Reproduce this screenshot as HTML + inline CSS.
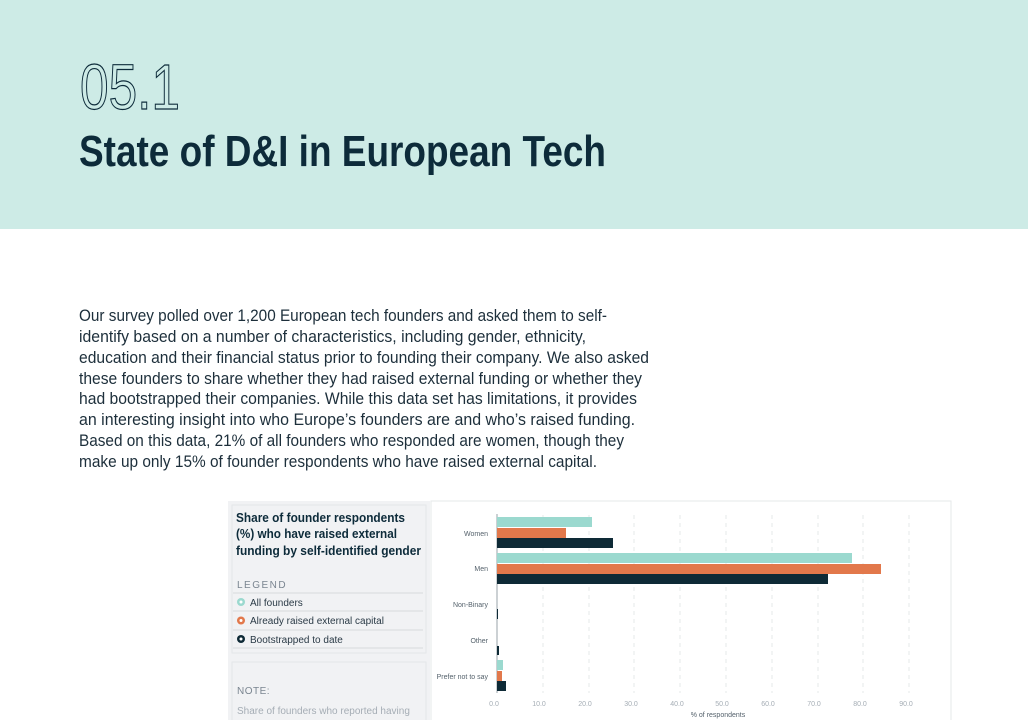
<!DOCTYPE html>
<html><head><meta charset="utf-8"><style>
html,body{margin:0;padding:0;background:#fff;}
svg{display:block;font-family:"Liberation Sans",sans-serif;}
</style></head><body>
<svg width="1028" height="720" viewBox="0 0 1028 720" xmlns="http://www.w3.org/2000/svg">
<rect x="0" y="0" width="1028" height="229" fill="#cdebe6"/>
<text x="80" y="109" font-size="64" fill="none" stroke="#0d2b3a" stroke-width="1.2" textLength="100" lengthAdjust="spacingAndGlyphs">05.1</text>
<text x="79" y="166" font-size="44" font-weight="bold" fill="#0d2b3a" textLength="527" lengthAdjust="spacingAndGlyphs">State of D&amp;I in European Tech</text>
<g font-size="17" fill="#1d2f3b">
<text x="79" y="321" textLength="528" lengthAdjust="spacingAndGlyphs">Our survey polled over 1,200 European tech founders and asked them to self-</text>
<text x="79" y="342" textLength="507" lengthAdjust="spacingAndGlyphs">identify based on a number of characteristics, including gender, ethnicity,</text>
<text x="79" y="363" textLength="570" lengthAdjust="spacingAndGlyphs">education and their financial status prior to founding their company. We also asked</text>
<text x="79" y="384" textLength="563" lengthAdjust="spacingAndGlyphs">these founders to share whether they had raised external funding or whether they</text>
<text x="79" y="404" textLength="558" lengthAdjust="spacingAndGlyphs">had bootstrapped their companies. While this data set has limitations, it provides</text>
<text x="79" y="425" textLength="556" lengthAdjust="spacingAndGlyphs">an interesting insight into who Europe’s founders are and who’s raised funding.</text>
<text x="79" y="446" textLength="545" lengthAdjust="spacingAndGlyphs">Based on this data, 21% of all founders who responded are women, though they</text>
<text x="79" y="467" textLength="518" lengthAdjust="spacingAndGlyphs">make up only 15% of founder respondents who have raised external capital.</text>
</g>
<!-- left panel -->
<rect x="228" y="501" width="202" height="219" fill="#f1f2f4"/>
<rect x="232" y="505" width="194" height="148" fill="none" stroke="#e4e6e9"/>
<g font-size="12.5" font-weight="bold" fill="#0d2b3a">
<text x="236" y="522" textLength="169" lengthAdjust="spacingAndGlyphs">Share of founder respondents</text>
<text x="236" y="538" textLength="161" lengthAdjust="spacingAndGlyphs">(%) who have raised external</text>
<text x="236" y="555" textLength="185" lengthAdjust="spacingAndGlyphs">funding by self-identified gender</text>
</g>
<text x="237" y="588" font-size="10" fill="#7a8590" letter-spacing="1.5">LEGEND</text>
<line x1="233" y1="593" x2="423" y2="593" stroke="#d6d9dd"/>
<line x1="233" y1="611" x2="423" y2="611" stroke="#d6d9dd"/>
<line x1="233" y1="630" x2="423" y2="630" stroke="#d6d9dd"/>
<line x1="233" y1="648" x2="423" y2="648" stroke="#d6d9dd"/>
<g font-size="10" fill="#2a3a46">
<circle cx="241" cy="602" r="4" fill="#9bd9cf"/><circle cx="241" cy="602" r="1.5" fill="#fff"/>
<text x="250" y="606">All founders</text>
<circle cx="241" cy="620.5" r="4" fill="#e2784b"/><circle cx="241" cy="620.5" r="1.5" fill="#fff"/>
<text x="250" y="624">Already raised external capital</text>
<circle cx="241" cy="639" r="4" fill="#0e2a36"/><circle cx="241" cy="639" r="1.5" fill="#fff"/>
<text x="250" y="643">Bootstrapped to date</text>
</g>
<rect x="232" y="662" width="194" height="60" fill="none" stroke="#e4e6e9"/>
<text x="237" y="694" font-size="10" fill="#7a8590" letter-spacing="0.5">NOTE:</text>
<text x="237" y="714" font-size="10" fill="#a5adb5">Share of founders who reported having</text>
<!-- chart panel -->
<rect x="431" y="501" width="520" height="225" fill="#fff" stroke="#e6e8ea"/>
<g stroke="#e6e8ea" stroke-dasharray="4,4">
<line x1="543" y1="515" x2="543" y2="693"/><line x1="589" y1="515" x2="589" y2="693"/>
<line x1="634" y1="515" x2="634" y2="693"/><line x1="680" y1="515" x2="680" y2="693"/>
<line x1="726" y1="515" x2="726" y2="693"/><line x1="772" y1="515" x2="772" y2="693"/>
<line x1="818" y1="515" x2="818" y2="693"/><line x1="863" y1="515" x2="863" y2="693"/>
<line x1="909" y1="515" x2="909" y2="693"/>
</g>
<line x1="497" y1="514" x2="497" y2="693" stroke="#9aa3aa"/>
<g>
<rect x="497" y="517" width="95" height="10" fill="#9bd9cf"/>
<rect x="497" y="528" width="69" height="10" fill="#e2784b"/>
<rect x="497" y="538" width="116" height="10" fill="#0e2a36"/>
<rect x="497" y="553" width="355" height="10" fill="#9bd9cf"/>
<rect x="497" y="564" width="384" height="10" fill="#e2784b"/>
<rect x="497" y="574" width="331" height="10" fill="#0e2a36"/>
<rect x="497" y="609" width="1" height="10" fill="#0e2a36"/>
<rect x="497" y="646" width="2" height="9" fill="#0e2a36"/>
<rect x="497" y="660" width="6" height="10" fill="#9bd9cf"/>
<rect x="497" y="671" width="5" height="10" fill="#e2784b"/>
<rect x="497" y="681" width="9" height="10" fill="#0e2a36"/>
</g>
<g font-size="7" fill="#55626c" text-anchor="end">
<text x="488" y="536">Women</text>
<text x="488" y="571">Men</text>
<text x="488" y="607">Non-Binary</text>
<text x="488" y="643">Other</text>
<text x="488" y="679">Prefer not to say</text>
</g>
<g font-size="7" fill="#a5adb5" text-anchor="middle">
<text x="494" y="706">0.0</text><text x="539" y="706">10.0</text><text x="585" y="706">20.0</text>
<text x="631" y="706">30.0</text><text x="677" y="706">40.0</text><text x="722" y="706">50.0</text>
<text x="768" y="706">60.0</text><text x="814" y="706">70.0</text><text x="860" y="706">80.0</text>
<text x="906" y="706">90.0</text>
</g>
<text x="718" y="717" font-size="7" fill="#55626c" text-anchor="middle">% of respondents</text>
</svg>
</body></html>
